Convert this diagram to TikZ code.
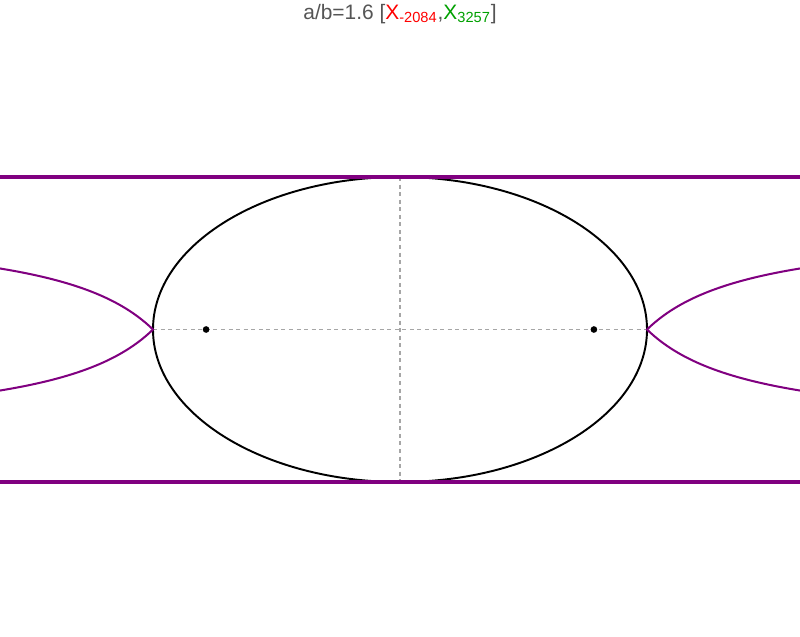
\documentclass[tikz,border=0pt]{standalone}
\usepackage{fontspec}
\setmainfont{Liberation Sans}
\usetikzlibrary{calc}
\definecolor{locuspurple}{HTML}{800080}
\definecolor{titlegray}{HTML}{555555}
\definecolor{xred}{HTML}{FF0000}
\definecolor{xgreen}{HTML}{00A000}

\begin{document}
\begin{tikzpicture}[x=0.02cm,y=0.02cm,
conic/.style={line width=1.1pt,draw=black},
locus/.style={line width=1.15pt,draw=locuspurple},
tangent/.style={line width=1.8pt,draw=locuspurple},
axis/.style={line width=0.6pt,draw=black!35,dash pattern=on 2.3pt off 2pt},
focus/.style={circle,fill=black,inner sep=0pt,minimum size=3.8pt}]
\useasboundingbox (-400,-306.5) rectangle (400,329.5);
\node[text=titlegray,font=\fontsize{11.9}{14}\selectfont] (title) at (0,315.5) {a/b=1.6 [\textcolor{xred}{X\textsubscript{-2084}},\textcolor{xgreen}{X\textsubscript{3257}}]};
\coordinate (left) at (-247,0);
\coordinate (right) at (247,0);
\coordinate (top) at (0,152.5);
\coordinate (bottom) at (0,-152.5);
\draw[axis] (left)--(right);
\draw[axis] (top)--(bottom);
\draw[conic] (0,0) ellipse [x radius=247,y radius=152.5];
\draw[tangent] (-400,152.5)--(400,152.5);
\draw[tangent] (-400,-152.5)--(400,-152.5);
\draw[locus] plot[domain=153:0,samples=60] ({247+\x},{103.7*\x/(\x+107)}) -- plot[domain=0:153,samples=60] ({247+\x},{-103.7*\x/(\x+107)});
\draw[locus] plot[domain=153:0,samples=60] ({-247-\x},{103.7*\x/(\x+107)}) -- plot[domain=0:153,samples=60] ({-247-\x},{-103.7*\x/(\x+107)});
\node[focus] (f1) at (-193.9,0) {};
\node[focus] (f2) at (193.9,0) {};
\end{tikzpicture}
\end{document}
